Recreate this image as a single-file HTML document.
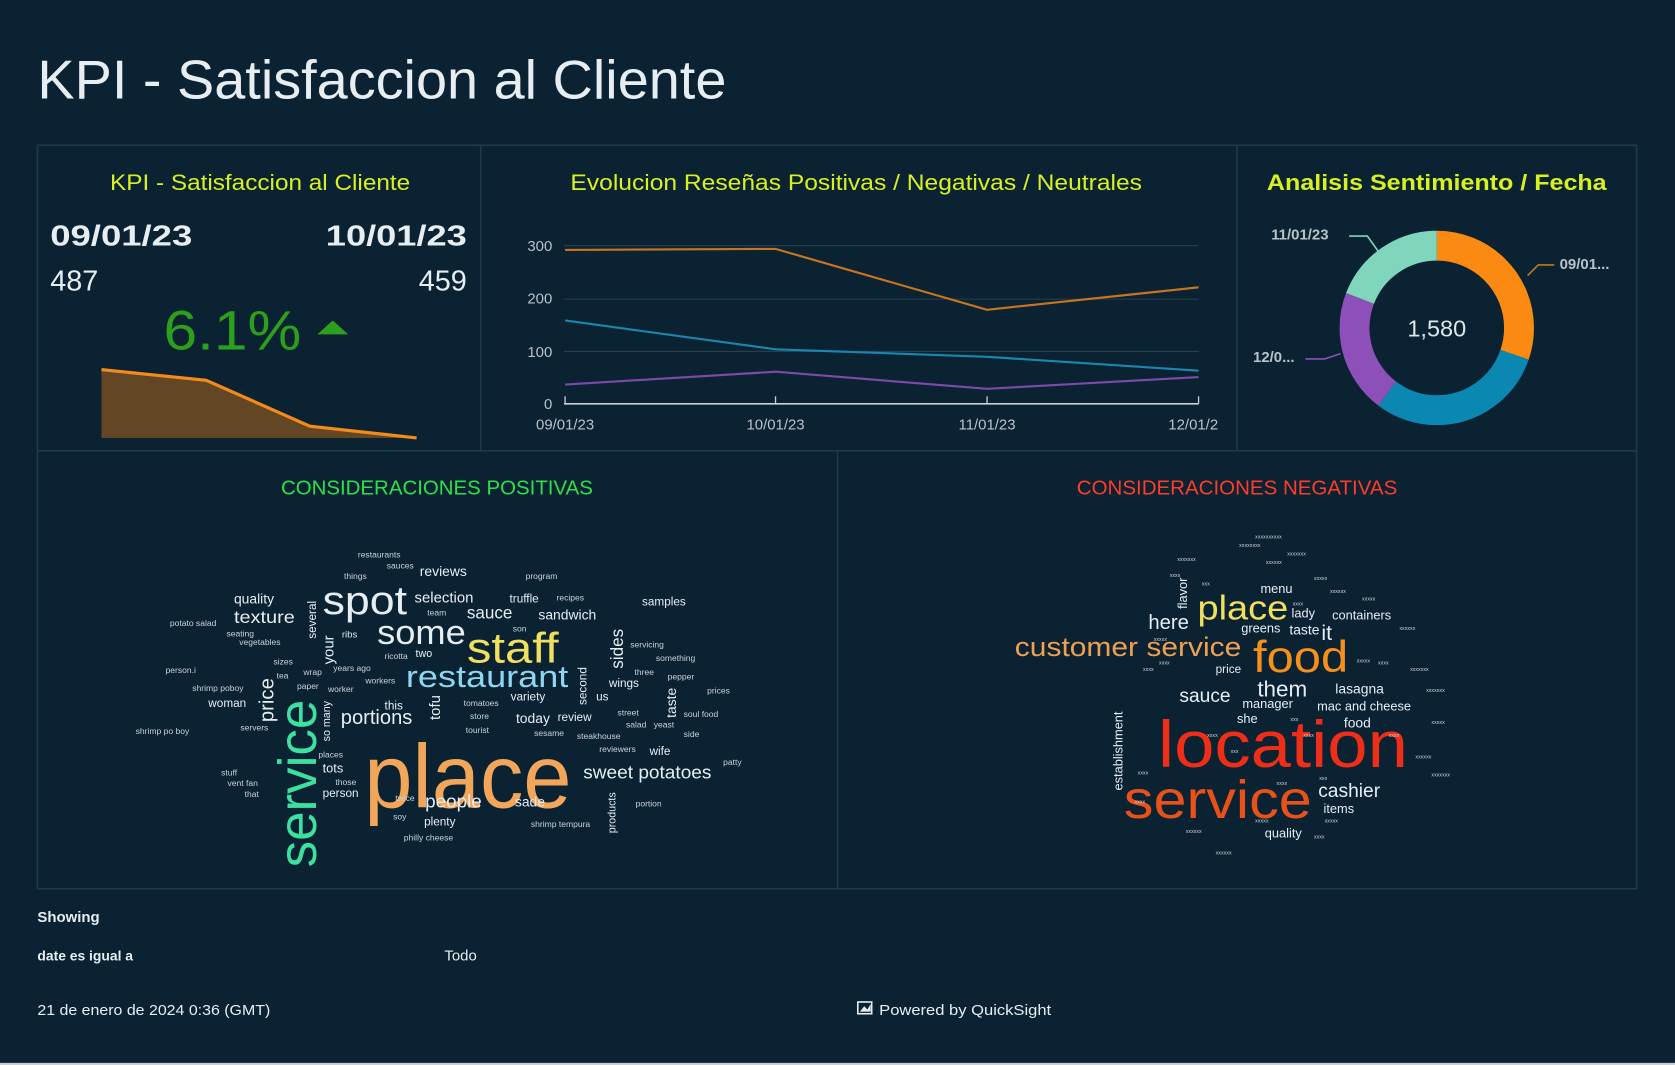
<!DOCTYPE html>
<html><head><meta charset="utf-8"><style>
html,body{margin:0;padding:0;background:#0b2233;width:1675px;height:1065px;overflow:hidden}
svg{display:block}
text{font-family:"Liberation Sans",sans-serif}
</style></head><body>
<svg width="1675" height="1065" viewBox="0 0 1568 997" preserveAspectRatio="none" xmlns="http://www.w3.org/2000/svg">
<rect width="1568" height="997" fill="#0b2233"/>
<text x="35" y="92" font-size="51" fill="#e6eef2" textLength="645" lengthAdjust="spacingAndGlyphs">KPI - Satisfaccion al Cliente</text>
<g fill="none" stroke="#1f3b4b" stroke-width="1.5">
<rect x="35" y="136" width="1497" height="696"/>
<line x1="450" y1="136" x2="450" y2="422"/>
<line x1="1158" y1="136" x2="1158" y2="422"/>
<line x1="35" y1="422" x2="1532" y2="422"/>
<line x1="784" y1="422" x2="784" y2="832"/>
</g>
<text x="103" y="178" font-size="21" fill="#d8f022" textLength="281" lengthAdjust="spacingAndGlyphs">KPI - Satisfaccion al Cliente</text>
<text x="47" y="230" font-size="27" font-weight="bold" fill="#e6eef2" textLength="133" lengthAdjust="spacingAndGlyphs">09/01/23</text>
<text x="305" y="230" font-size="27" font-weight="bold" fill="#e6eef2" textLength="132" lengthAdjust="spacingAndGlyphs">10/01/23</text>
<text x="47" y="272" font-size="27" fill="#e6eef2">487</text>
<text x="437" y="272" font-size="27" fill="#e6eef2" text-anchor="end">459</text>
<text x="153" y="327" font-size="52" fill="#2ca01c" textLength="129" lengthAdjust="spacingAndGlyphs">6.1%</text>
<polygon points="297,313 326,313 311.5,300" fill="#2ca01c"/>
<polygon points="95,346 193,356 290,399 390,410 95,410" fill="#634624"/>
<polyline points="95,346 193,356 290,399 390,410" fill="none" stroke="#f58a1c" stroke-width="3"/>
<text x="534" y="178" font-size="21" fill="#d8f022" textLength="535" lengthAdjust="spacingAndGlyphs">Evolucion Reseñas Positivas / Negativas / Neutrales</text>
<g stroke="#26404f" stroke-width="1">
<line x1="528" y1="230" x2="1122" y2="230"/>
<line x1="528" y1="280" x2="1122" y2="280"/>
<line x1="528" y1="329" x2="1122" y2="329"/>
</g>
<line x1="528" y1="378" x2="1122" y2="378" stroke="#c9d2d8" stroke-width="1.5"/>
<g stroke="#c9d2d8" stroke-width="1.2"><line x1="529" y1="371" x2="529" y2="378"/><line x1="726" y1="371" x2="726" y2="378"/><line x1="924" y1="371" x2="924" y2="378"/><line x1="1122" y1="371" x2="1122" y2="378"/></g>
<g font-size="14" fill="#b8c2c8" text-anchor="end"><text x="517" y="235">300</text><text x="517" y="284">200</text><text x="517" y="334">100</text><text x="517" y="383">0</text></g>
<g font-size="14" fill="#b8c2c8" text-anchor="middle"><text x="529" y="402">09/01/23</text><text x="726" y="402">10/01/23</text><text x="924" y="402">11/01/23</text><text x="1117" y="402">12/01/2</text></g>
<polyline points="529,234 726,233 924,290 1122,269" fill="none" stroke="#c8761e" stroke-width="2"/>
<polyline points="529,300 726,327 924,334 1122,347" fill="none" stroke="#1b87ae" stroke-width="2"/>
<polyline points="529,360 726,348 924,364 1122,353" fill="none" stroke="#7c4aa8" stroke-width="2"/>
<text x="1186" y="178" font-size="21" font-weight="bold" fill="#d8f022" textLength="318" lengthAdjust="spacingAndGlyphs">Analisis Sentimiento / Fecha</text>
<g transform="translate(1345,307) rotate(-90)" fill="none" stroke-width="28">
<circle r="77" stroke="#fa8a12" stroke-dasharray="146.5 400"/>
<circle r="77" stroke="#0b88b2" stroke-dasharray="145.1 400" stroke-dashoffset="-146.5"/>
<circle r="77" stroke="#8d4fb8" stroke-dasharray="99.4 400" stroke-dashoffset="-291.6"/>
<circle r="77" stroke="#7fd6bc" stroke-dasharray="92.8 400" stroke-dashoffset="-391"/>
</g>
<text x="1345" y="315" font-size="22" fill="#dfe6ea" text-anchor="middle">1,580</text>
<polyline points="1263,221 1280,221 1290,235" fill="none" stroke="#7fd6bc" stroke-width="1.5"/>
<polyline points="1430,258 1440,248 1455,248" fill="none" stroke="#c8761e" stroke-width="1.5"/>
<polyline points="1222,336 1240,336 1255,331" fill="none" stroke="#8d4fb8" stroke-width="1.5"/>
<g font-size="14" font-weight="bold" fill="#b8c2c8"><text x="1190" y="224">11/01/23</text><text x="1460" y="252">09/01...</text><text x="1173" y="339">12/0...</text></g>
<text x="263" y="463" font-size="19" fill="#2ee04a" textLength="292" lengthAdjust="spacingAndGlyphs">CONSIDERACIONES POSITIVAS</text>
<g fill="#e6eef2">
<text x="341" y="756" font-size="84" fill="#f2a65a" textLength="194" lengthAdjust="spacingAndGlyphs">place</text>
<text transform="translate(296,812) rotate(-90)" font-size="50" fill="#3ee0a0" textLength="157" lengthAdjust="spacingAndGlyphs">service</text>
<text x="437" y="620" font-size="40" fill="#f0e060" textLength="86" lengthAdjust="spacingAndGlyphs">staff</text>
<text x="380" y="643" font-size="29" fill="#8fd6f0" textLength="152" lengthAdjust="spacingAndGlyphs">restaurant</text>
<text x="353" y="603" font-size="32" textLength="83" lengthAdjust="spacingAndGlyphs">some</text>
<text x="302" y="575" font-size="37" textLength="79" lengthAdjust="spacingAndGlyphs">spot</text>
<text x="319" y="678" font-size="19" textLength="67" lengthAdjust="spacingAndGlyphs">portions</text>
<text x="546" y="729" font-size="17" textLength="120" lengthAdjust="spacingAndGlyphs">sweet potatoes</text>
<text x="398" y="756" font-size="17" textLength="53" lengthAdjust="spacingAndGlyphs">people</text>
<text x="219" y="583" font-size="16" textLength="57" lengthAdjust="spacingAndGlyphs">texture</text>
<text transform="translate(256,676) rotate(-90)" font-size="19">price</text>
<text x="219" y="565" font-size="13">quality</text>
<text x="388" y="564" font-size="14">selection</text>
<text x="437" y="579" font-size="16">sauce</text>
<text x="504" y="580" font-size="13">sandwich</text>
<text x="393" y="539" font-size="13">reviews</text>
<text transform="translate(583,626) rotate(-90)" font-size="16">sides</text>
<text transform="translate(412,674) rotate(-90)" font-size="14">tofu</text>
<text transform="translate(312,622) rotate(-90)" font-size="14">your</text>
<text transform="translate(296,598) rotate(-90)" font-size="11">several</text>
<text transform="translate(633,672) rotate(-90)" font-size="13">taste</text>
<text transform="translate(549,660) rotate(-90)" font-size="11">second</text>
<text transform="translate(576,780) rotate(-90)" font-size="10">products</text>
<text transform="translate(309,694) rotate(-90)" font-size="10">so many</text>
<text x="483" y="677" font-size="13">today</text>
<text x="522" y="675" font-size="11">review</text>
<text x="482" y="755" font-size="13">sade</text>
<text x="302" y="723" font-size="12">tots</text>
<text x="302" y="746" font-size="11">person</text>
<text x="195" y="662" font-size="11">woman</text>
<text x="570" y="643" font-size="11">wings</text>
<text x="608" y="707" font-size="11">wife</text>
<text x="477" y="564" font-size="11">truffle</text>
<text x="478" y="656" font-size="11">variety</text>
<text x="397" y="773" font-size="11">plenty</text>
<text x="601" y="567" font-size="11">samples</text>
<text x="360" y="664" font-size="11">this</text>
<text x="389" y="615" font-size="10">two</text>
<text x="558" y="656" font-size="11">us</text>
<text x="320" y="597" font-size="9">ribs</text>
</g>
<g fill="#c9d2d8" font-size="8">
<text x="335" y="522">restaurants</text><text x="322" y="542">things</text><text x="362" y="532">sauces</text>
<text x="492" y="542">program</text><text x="521" y="562">recipes</text><text x="400" y="576">team</text>
<text x="159" y="586">potato salad</text><text x="212" y="596">seating</text><text x="224" y="604">vegetables</text>
<text x="155" y="630">person.i</text><text x="256" y="622">sizes</text><text x="259" y="635">tea</text>
<text x="284" y="632">wrap</text><text x="278" y="645">paper</text><text x="307" y="648">worker</text>
<text x="180" y="647">shrimp poboy</text><text x="127" y="687">shrimp po boy</text><text x="225" y="684">servers</text>
<text x="312" y="628">years ago</text><text x="342" y="640">workers</text><text x="360" y="617">ricotta</text>
<text x="434" y="661">tomatoes</text><text x="440" y="673">store</text><text x="436" y="686">tourist</text>
<text x="500" y="689">sesame</text><text x="540" y="692">steakhouse</text><text x="561" y="704">reviewers</text>
<text x="578" y="670">street</text><text x="586" y="681">salad</text><text x="612" y="681">yeast</text>
<text x="640" y="671">soul food</text><text x="640" y="690">side</text><text x="677" y="716">patty</text>
<text x="662" y="649">prices</text><text x="625" y="636">pepper</text><text x="594" y="632">three</text>
<text x="614" y="619">something</text><text x="590" y="606">servicing</text><text x="480" y="591">son</text>
<text x="298" y="709">places</text><text x="314" y="735">those</text><text x="370" y="750">twice</text>
<text x="368" y="767">soy</text><text x="378" y="787">philly cheese</text><text x="497" y="774">shrimp tempura</text>
<text x="595" y="755">portion</text><text x="207" y="726">stuff</text><text x="213" y="736">vent fan</text><text x="229" y="746">that</text>
</g>
<text x="1008" y="463" font-size="19" fill="#ff3c28" textLength="300" lengthAdjust="spacingAndGlyphs">CONSIDERACIONES NEGATIVAS</text>
<g fill="#e6eef2">
<text x="1084" y="718" font-size="62" fill="#ef2e18" textLength="234" lengthAdjust="spacingAndGlyphs">location</text>
<text x="1052" y="766" font-size="50" fill="#e8521a" textLength="176" lengthAdjust="spacingAndGlyphs">service</text>
<text x="1173" y="629" font-size="42" fill="#f5901a" textLength="89" lengthAdjust="spacingAndGlyphs">food</text>
<text x="950" y="614" font-size="25" fill="#f0a050" textLength="212" lengthAdjust="spacingAndGlyphs">customer service</text>
<text x="1121" y="580" font-size="32" fill="#f0e060" textLength="85" lengthAdjust="spacingAndGlyphs">place</text>
<text x="1177" y="652" font-size="21">them</text>
<text x="1104" y="657" font-size="18">sauce</text>
<text x="1234" y="746" font-size="18">cashier</text>
<text x="1075" y="589" font-size="19">here</text>
<text x="1250" y="649" font-size="13">lasagna</text>
<text x="1233" y="665" font-size="12">mac and cheese</text>
<text x="1163" y="663" font-size="12">manager</text>
<text x="1158" y="677" font-size="12">she</text>
<text x="1258" y="681" font-size="13">food</text>
<text x="1237" y="599" font-size="20">it</text>
<text x="1207" y="594" font-size="13">taste</text>
<text x="1162" y="592" font-size="12">greens</text>
<text x="1209" y="578" font-size="12">lady</text>
<text x="1180" y="555" font-size="12">menu</text>
<text x="1247" y="580" font-size="12">containers</text>
<text x="1138" y="630" font-size="11">price</text>
<text x="1239" y="761" font-size="12">items</text>
<text x="1184" y="784" font-size="12">quality</text>
<text transform="translate(1051,740) rotate(-90)" font-size="12">establishment</text>
<text transform="translate(1111,570) rotate(-90)" font-size="12">flavor</text>
</g>
<g fill="#c9d2d8" font-size="5">
<text x="1175" y="504">xxxxxxxxxx</text><text x="1160" y="512">xxxxxxxx</text><text x="1205" y="520">xxxxxxx</text>
<text x="1102" y="525">xxxxxxx</text><text x="1185" y="528">xxxxxx</text><text x="1230" y="543">xxxxx</text>
<text x="1125" y="548">xxx</text><text x="1095" y="540">xxxx</text><text x="1245" y="555">xxxxxx</text>
<text x="1275" y="562">xxxxx</text><text x="1310" y="590">xxxxxx</text><text x="1210" y="567">xxxx</text>
<text x="1080" y="600">xxxxx</text><text x="1070" y="628">xxxx</text><text x="1085" y="622">xxxx</text>
<text x="1290" y="622">xxxx</text><text x="1320" y="628">xxxxxxx</text><text x="1270" y="620">xxxxx</text>
<text x="1335" y="648">xxxxxxx</text><text x="1340" y="678">xxxxx</text><text x="1300" y="690">xxxx</text>
<text x="1325" y="710">xxxxxx</text><text x="1340" y="727">xxxxxxx</text><text x="1065" y="725">xxxx</text>
<text x="1062" y="752">xxxx</text><text x="1110" y="780">xxxxxx</text><text x="1138" y="800">xxxxxx</text>
<text x="1175" y="770">xxxxx</text><text x="1230" y="785">xxxx</text><text x="1240" y="770">xxxxx</text>
<text x="1208" y="675">xxx</text><text x="1220" y="690">xxxx</text><text x="1195" y="735">xxxx</text>
<text x="1152" y="705">xxx</text><text x="1130" y="690">xxxx</text><text x="1235" y="730">xxx</text>
</g>
<text x="35" y="863" font-size="14" font-weight="bold" fill="#e6eef2">Showing</text>
<text x="35" y="899" font-size="13" font-weight="bold" fill="#e6eef2">date es igual a</text>
<text x="416" y="899" font-size="14" fill="#e6eef2">Todo</text>
<text x="35" y="950" font-size="14" fill="#e6eef2" textLength="218" lengthAdjust="spacingAndGlyphs">21 de enero de 2024 0:36 (GMT)</text>
<rect x="803" y="938" width="13" height="11" fill="none" stroke="#e6eef2" stroke-width="1.5"/>
<polygon points="805,947 809,942 812,945 815,940 815,947" fill="#e6eef2"/>
<text x="823" y="950" font-size="14" fill="#e6eef2" textLength="161" lengthAdjust="spacingAndGlyphs">Powered by QuickSight</text>
<rect x="0" y="995" width="1568" height="2" fill="#c8ced2"/>
</svg>
</body></html>
